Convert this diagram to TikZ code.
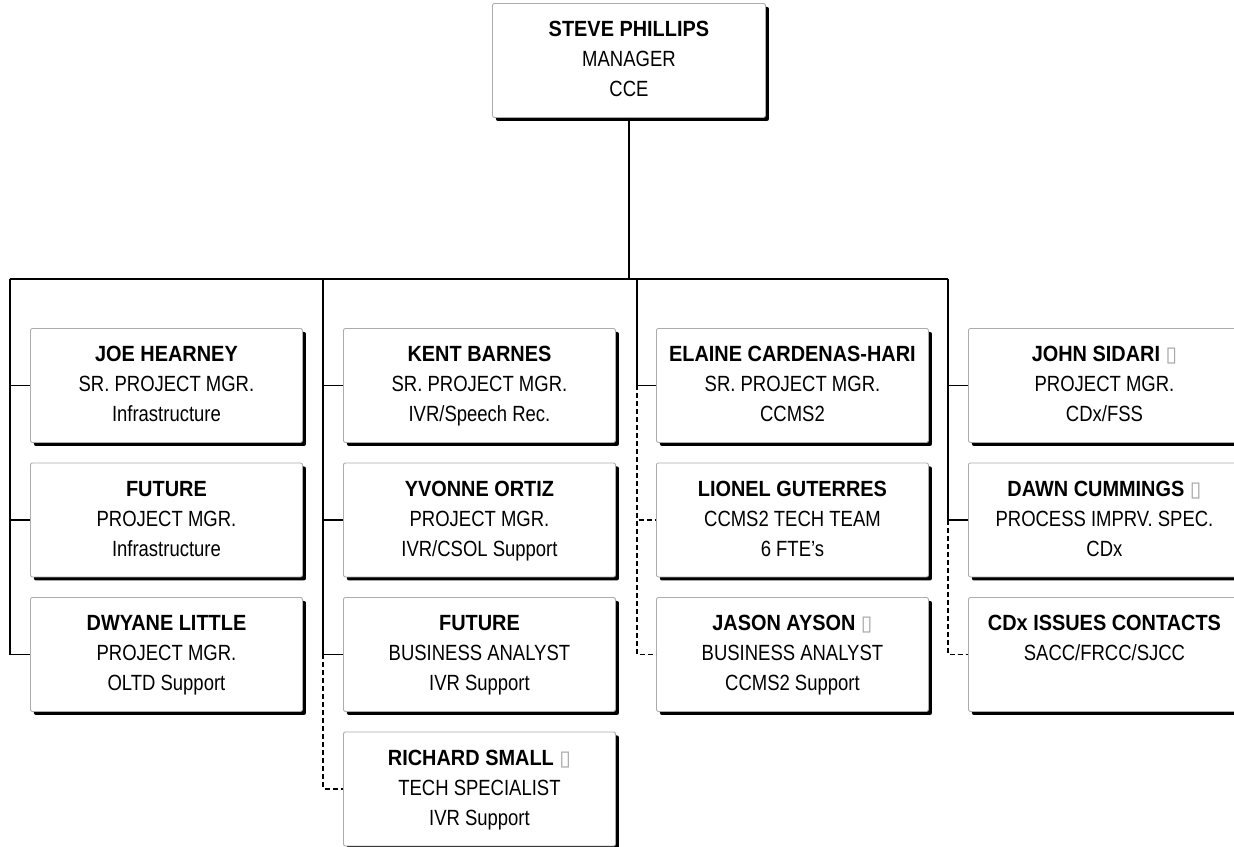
\documentclass[tikz,border=0pt]{standalone}
\usepackage{fontspec}
\setmainfont{Liberation Sans}[FakeStretch=0.84]
\newfontfamily\namefont{Liberation Sans}[FakeStretch=0.905]
\newfontfamily\glyphfont{DejaVu Sans}
\usetikzlibrary{shadows}

% bold name line and the small open marker printed after some names
\newcommand\who[1]{{\namefont\bfseries #1}}
\newcommand\marker{{\glyphfont\fontsize{21}{21}\selectfont\color{gray!70}▯}}

\tikzset{
  person/.style={draw=gray!65, line width=0.9pt, fill=white, rounded corners=2pt,
    minimum width=272pt, minimum height=114pt, inner sep=0pt, align=center,
    text height=76pt, text depth=3pt, font=\fontsize{22}{30}\selectfont,
    drop shadow={shadow xshift=3.5pt, shadow yshift=-3.5pt, fill=black, opacity=1},
    anchor=north west},
  twolines/.style={text height=46pt, text depth=33pt},
  link/.style={line width=1.3pt, black},
  auxlink/.style={link, line width=1.1pt, dash pattern=on 5pt off 3pt}
}

\begin{document}
\begin{tikzpicture}[x=1pt,y=-1pt]
\useasboundingbox (0,0) rectangle (1234,846);
\clip (0,0) rectangle (1234,846);

% manager
\node[person, minimum width=273pt] (boss) at (492,3) {\who{STEVE PHILLIPS}\\MANAGER\\CCE};

% first column
\node[person] (joe)    at (30,328)   {\who{JOE HEARNEY}\\SR. PROJECT MGR.\\Infrastructure};
\node[person] (fut1)   at (30,462.5) {\who{FUTURE}\\PROJECT MGR.\\Infrastructure};
\node[person] (dwyane) at (30,597)   {\who{DWYANE LITTLE}\\PROJECT MGR.\\OLTD Support};

% second column
\node[person] (kent)    at (343,328)   {\who{KENT BARNES}\\SR. PROJECT MGR.\\IVR/Speech Rec.};
\node[person] (yvonne)  at (343,462.5) {\who{YVONNE ORTIZ}\\PROJECT MGR.\\IVR/CSOL Support};
\node[person] (fut2)    at (343,597)   {\who{FUTURE}\\BUSINESS ANALYST\\IVR Support};
\node[person] (richard) at (343,731.5) {\who{RICHARD SMALL \marker}\\TECH SPECIALIST\\IVR Support};

% third column
\node[person] (elaine) at (656,328)   {\who{ELAINE CARDENAS-HARI}\\SR. PROJECT MGR.\\CCMS2};
\node[person] (lionel) at (656,462.5) {\who{LIONEL GUTERRES}\\CCMS2 TECH TEAM\\6 FTE's};
\node[person] (jason)  at (656,597)   {\who{JASON AYSON \marker}\\BUSINESS ANALYST\\CCMS2 Support};

% fourth column
\node[person] (john) at (968,328)   {\who{JOHN SIDARI \marker}\\PROJECT MGR.\\CDx/FSS};
\node[person] (dawn) at (968,462.5) {\who{DAWN CUMMINGS \marker}\\PROCESS IMPRV. SPEC.\\CDx};
\node[person, twolines] (cdx) at (968,597) {\who{CDx ISSUES CONTACTS}\\SACC/FRCC/SJCC};

% bus and column drops
\coordinate (c1) at (10,279);
\coordinate (c2) at (323,279);
\coordinate (c3) at (637,279);
\coordinate (c4) at (948,279);
\draw[link] (boss.south) -- (boss.south |- c1);
\draw[link] (c1) -- (c4);

\draw[link] (c1) |- (joe.west);
\draw[link] (c1) |- (fut1.west);
\draw[link] (c1) |- (dwyane.west);

\draw[link] (c2) |- (kent.west);
\draw[link] (c2) |- (yvonne.west);
\draw[link] (c2) |- (fut2.west);
\draw[auxlink] (c2 |- fut2.west) |- (richard.west);

\draw[link] (c3) |- (elaine.west);
\draw[auxlink] (c3 |- elaine.west) |- (lionel.west);
\draw[auxlink] (c3 |- elaine.west) |- (jason.west);

\draw[link] (c4) |- (john.west);
\draw[link] (c4) |- (dawn.west);
\draw[auxlink] (c4 |- dawn.west) |- (cdx.west);
\end{tikzpicture}
\end{document}
